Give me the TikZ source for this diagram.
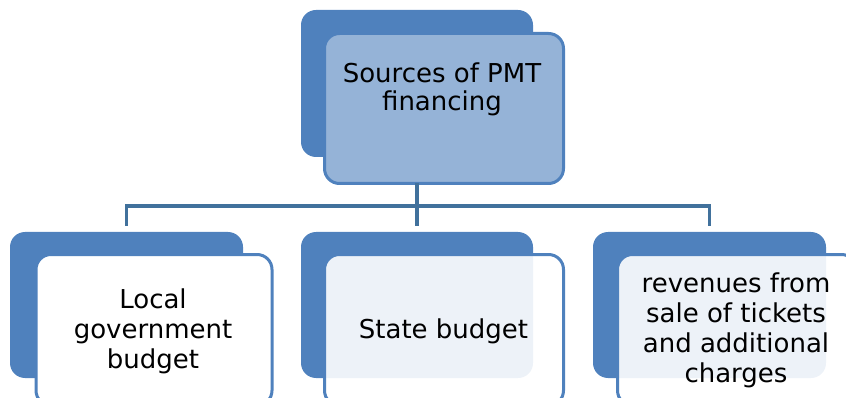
\documentclass[tikz,border=0pt]{standalone}
\usepackage{fontspec}
\setmainfont{DejaVu Sans}
\begin{document}
\begin{tikzpicture}[x=1pt,y=-1pt,
  backbox/.style={rectangle, rounded corners=15pt, fill=darkblue, inner sep=0pt, outer sep=0pt},
  frontbox/.style={rectangle, rounded corners=15pt, draw=darkblue, line width=3pt, inner sep=0pt, outer sep=0pt},
  label/.style={align=center, inner sep=0pt, font=\fontsize{26}{30}\selectfont},
  conn/.style={draw=connblue, line width=3.5pt, line join=miter}]
\definecolor{darkblue}{HTML}{4F81BD}
\definecolor{lightblue}{HTML}{95B3D7}
\definecolor{connblue}{HTML}{41719C}
\useasboundingbox (0,0) rectangle (846,398);
\begin{scope}
\clip (0,0) rectangle (846,398);
% top level
\node[backbox, minimum width=232pt, minimum height=147pt] (tb) at (417,83.5) {};
\node[frontbox, fill=lightblue, minimum width=239pt, minimum height=150pt] (tf) at (444,108.5) {};
\node[label, font=\fontsize{26}{28}\selectfont] (tt) at (442,89) {Sources of PMT\\financing};
% second level
\node[backbox, minimum width=233pt, minimum height=146pt] (lb) at (126.5,305) {};
\node[backbox, minimum width=232pt, minimum height=146pt] (mb) at (417,305) {};
\node[backbox, minimum width=233pt, minimum height=146pt] (rb) at (709.5,305) {};
\node[frontbox, fill=white, minimum width=236pt, minimum height=151pt] (lf) at (154,330) {};
\node[frontbox, fill=white, fill opacity=0.9, minimum width=239pt, minimum height=151pt] (mf) at (444,330) {};
\node[frontbox, fill=white, fill opacity=0.9, minimum width=239pt, minimum height=151pt] (rf) at (737,330) {};
\node[label] (lt) at (153,331) {Local\\government\\budget};
\node[label] (mt) at (443.5,331) {State budget};
\node[label] (rt) at (736,330.6) {revenues from\\sale of tickets\\and additional\\charges};
% connectors
\coordinate (bus) at (0,206);
\draw[conn] (tb |- tf.south) -- (tb |- bus);
\draw[conn] ([yshift=6pt]lb.north) -- (lb.north |- bus) -- (rb.north |- bus) -- ([yshift=6pt]rb.north);
\draw[conn] ([yshift=6pt]mb.north) -- (mb.north |- bus);
\end{scope}
\end{tikzpicture}
\end{document}
